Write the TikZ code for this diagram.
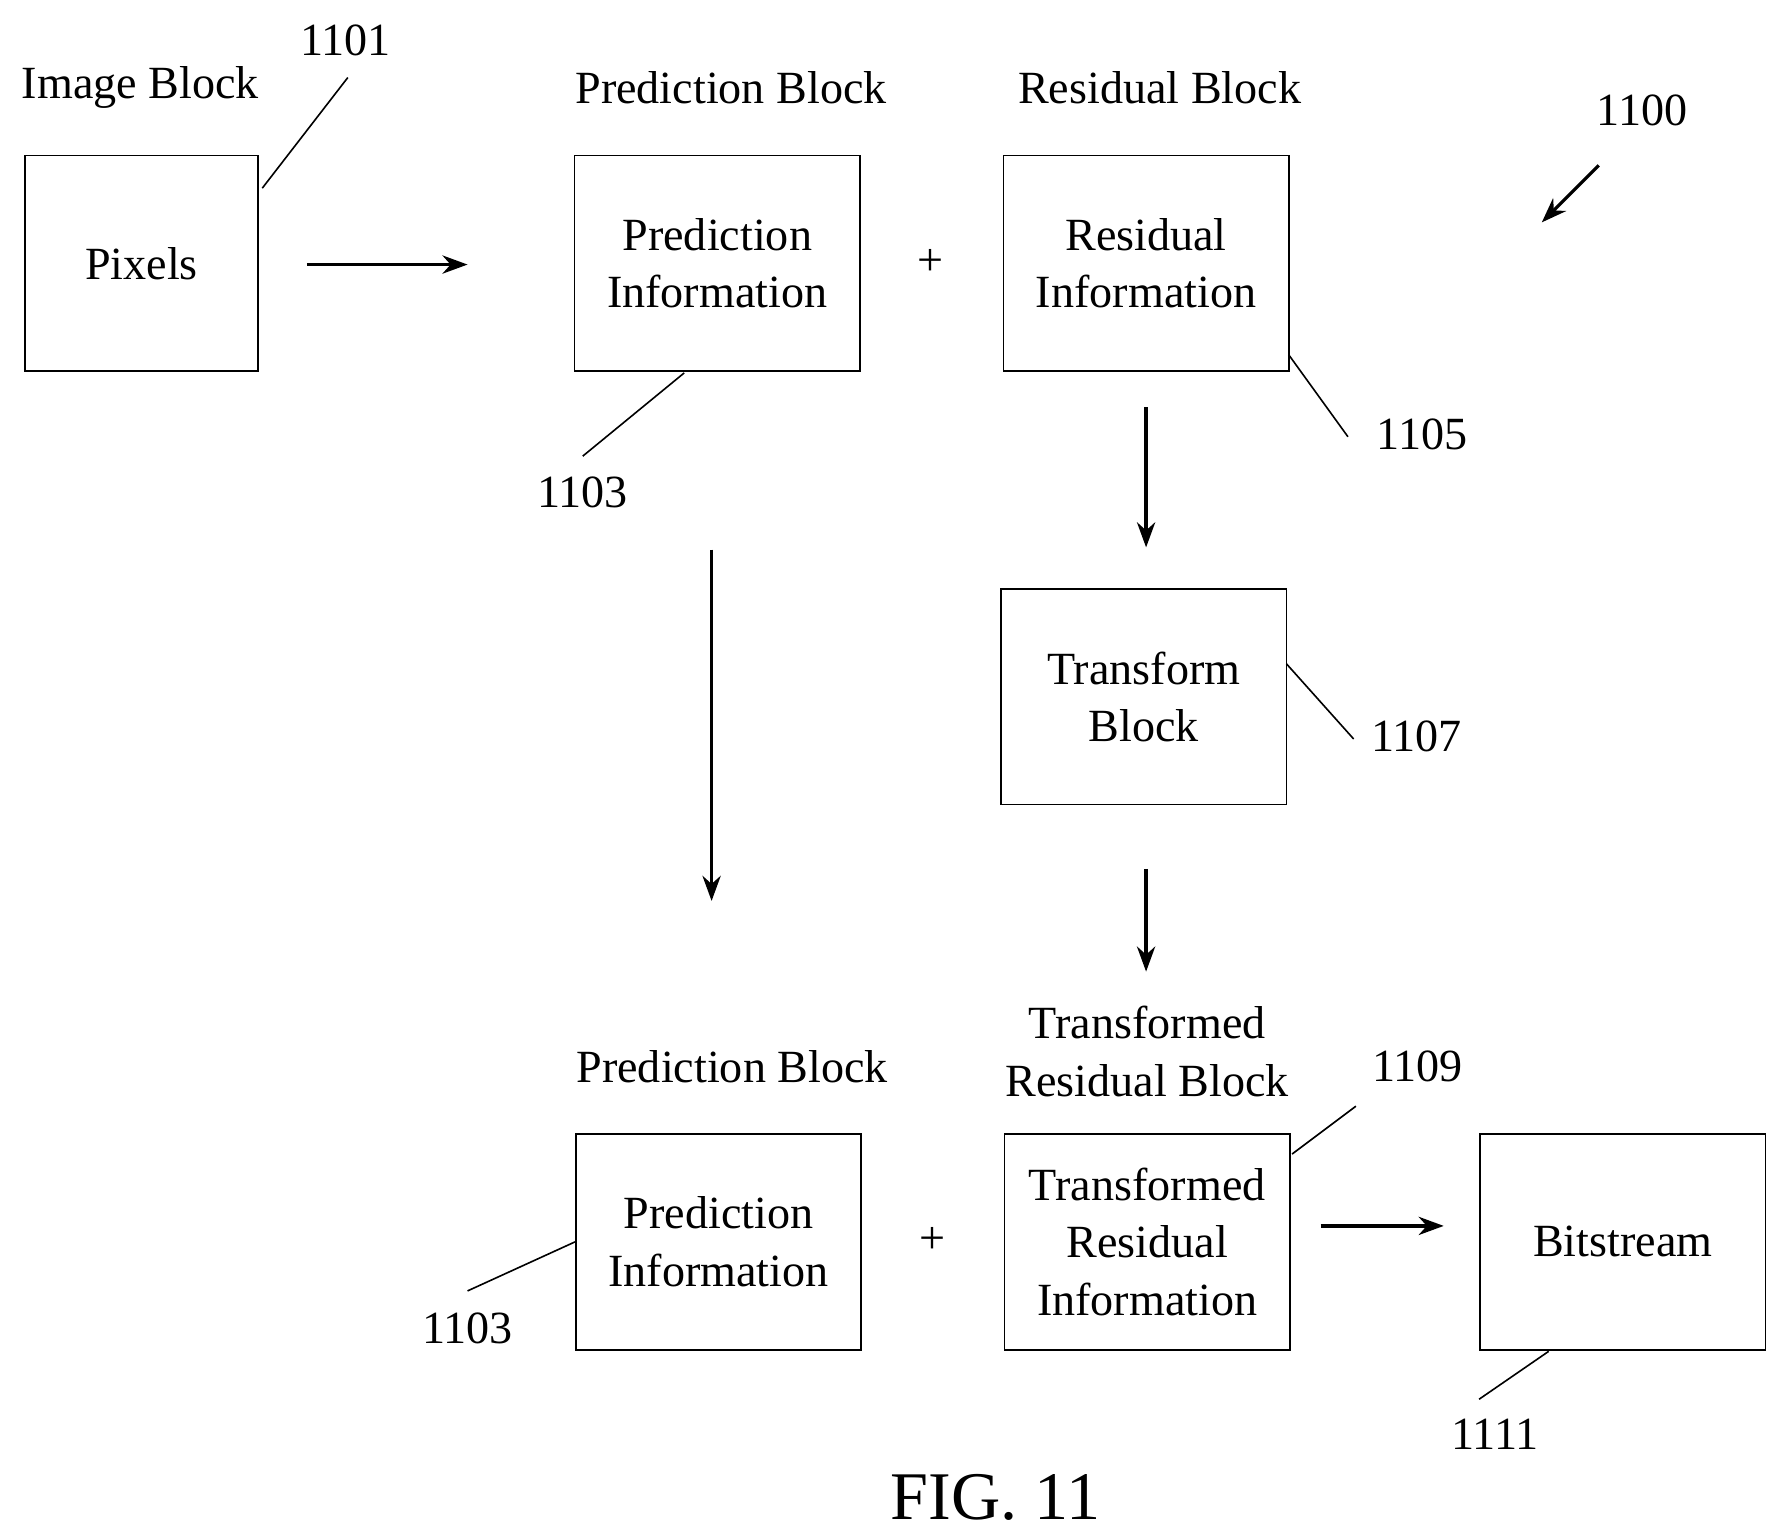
\documentclass[tikz,border=0pt]{standalone}
\usepackage{fontspec}
\setmainfont{Liberation Serif}
\usetikzlibrary{positioning,arrows.meta}
\begin{document}
\begin{tikzpicture}[
x=0.01cm, y=-0.01cm,
     B/.style = {draw, minimum width=2.5cm, minimum height=1.89cm, align=center,
                 font=\fontsize{11.5}{14.3}\selectfont},
     L/.style = {font=\fontsize{11.5}{14.3}\selectfont, align=center},
     A/.style = {-{Stealth[length=2.2mm,width=1.6mm]}, thick},
                    ]
\useasboundingbox (0,0) rectangle (1560,1346);
    \begin{scope}[nodes=B]
\node (pix) [minimum width=2.04cm] at (124,231) {Pixels};
\node (pred) at (629,231) {Prediction\\Information};
\node (res)  at (1005,231) {Residual\\Information};
\node (tr)   at (1003,611) {Transform\\Block};
\node (pred2) at (630,1089) {Prediction\\Information};
\node (tres) at (1006,1089) {Transformed\\Residual\\Information};
\node (bits) at (1423,1089) {Bitstream};
    \end{scope}
    \begin{scope}[nodes=L]
\node (t1) at (123,77) {Image Block};
\node (t2) at (641,77) {Prediction Block};
\node (t3) at (1017,77) {Residual Block};
\node (t4) at (642,935) {Prediction Block};
\node (t5) at (1006,922) {Transformed\\Residual Block};
\node (p1) at (816,230) {+};
\node (p2) at (818,1088) {+};
\node (n1101) at (303,35) {1101};
\node (n1100) at (1440,97) {1100};
\node (n1105) at (1247,381) {1105};
\node (n1103) at (511,432) {1103};
\node (n1107) at (1242,646) {1107};
\node (n1109) at (1243,935) {1109};
\node (n1103b) at (410,1165) {1103};
\node (n1111) at (1311,1258) {1111};
    \end{scope}
\node (fig) [font=\fontsize{17}{20}\selectfont] at (873,1313) {FIG. 11};

\coordinate (a1) at (269,232);  \coordinate (a2) at (410,232);
\coordinate (b1) at (1005,357); \coordinate (b2) at (1005,480);
\coordinate (c1) at (624,482);  \coordinate (c2) at (624,790);
\coordinate (d1) at (1005,762); \coordinate (d2) at (1005,852);
\coordinate (e1) at (1158,1075); \coordinate (e2) at (1266,1075);
\coordinate (f1) at (1402,145); \coordinate (f2) at (1352,195);
\draw[A] (a1) -- (a2);
\draw[A] (b1) -- (b2);
\draw[A] (c1) -- (c2);
\draw[A] (d1) -- (d2);
\draw[A] (e1) -- (e2);
\draw[A] (f1) -- (f2);

% leader lines
\coordinate (l1) at (305,68);   \coordinate (l2) at (511,400);
\coordinate (l3) at (1182,383); \coordinate (l4) at (1187,648);
\coordinate (l5) at (1189,970); \coordinate (l6) at (410,1132);
\coordinate (l7) at (1297,1227);
\draw (l1) -- (230,165);
\draw (l2) -- (600,327);
\draw (l3) -- (1130,311);
\draw (l4) -- (1128,582);
\draw (l5) -- (1133,1012);
\draw (l6) -- (pred2.west);
\draw (l7) -- (1358,1185);
\end{tikzpicture}
\end{document}
